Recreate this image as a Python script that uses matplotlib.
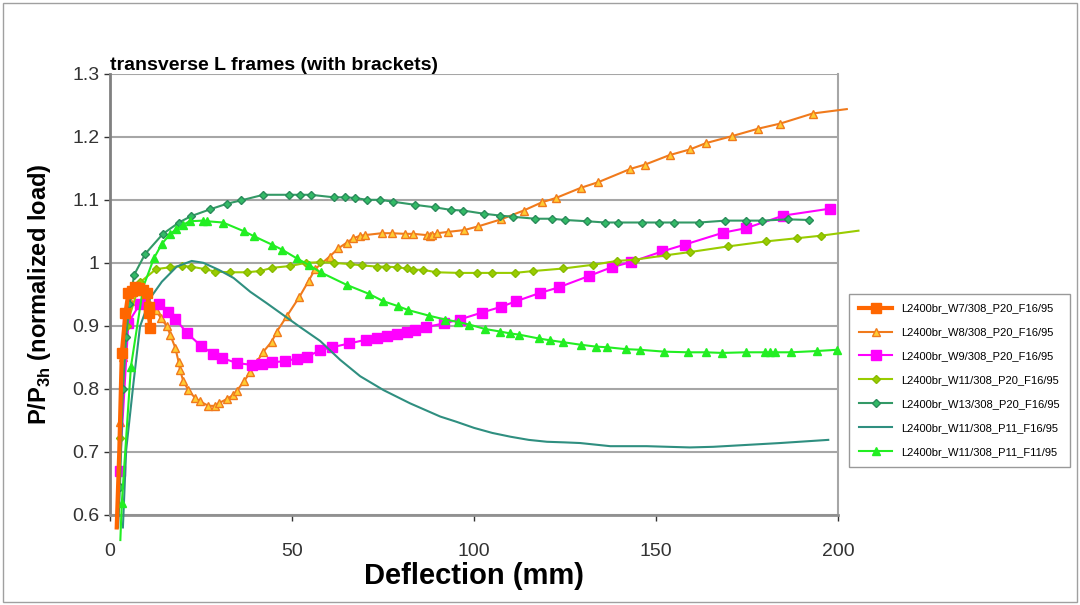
#!/usr/bin/env python3

import matplotlib
matplotlib.use("Agg")
import matplotlib.pyplot as plt
from matplotlib.patches import Rectangle

plt.rcParams['font.family'] = ['Liberation Sans', 'DejaVu Sans']
plt.rcParams['mathtext.fontset'] = 'custom'
plt.rcParams['mathtext.rm'] = 'Liberation Sans'
plt.rcParams['mathtext.bf'] = 'Liberation Sans:bold'

labels = ["L2400br_W7/308_P20_F16/95", "L2400br_W8/308_P20_F16/95",
          "L2400br_W9/308_P20_F16/95", "L2400br_W11/308_P20_F16/95",
          "L2400br_W13/308_P20_F16/95", "L2400br_W11/308_P11_F16/95",
          "L2400br_W11/308_P11_F11/95"]

w7_x = [1.8, 2.5, 3.2, 4.2, 5.0, 6.0, 6.9, 8.0, 9.0, 10.1, 10.6, 11.0, 10.8]
w7_y = [0.58, 0.70, 0.857, 0.92, 0.952, 0.955, 0.962, 0.96, 0.957, 0.952, 0.93, 0.897, 0.92]

w8_x = [2.0, 2.7, 3.5, 4.5, 5.5, 7.1, 8.5, 10.5, 12.5, 14.0, 15.6, 16.5, 17.9, 18.8, 19.2,
        20.1, 21.5, 23.4, 24.7, 27.0, 28.8, 29.8, 32.1, 33.7, 34.8, 36.8, 38.5, 40.3, 42.1,
        44.4, 45.8, 48.5, 52.0, 54.5, 56.3, 60.3, 62.7, 65.0, 66.8, 68.7, 70.0, 74.6, 77.4,
        81.0, 83.3, 87.0, 87.8, 88.5, 89.9, 92.7, 97.3, 101.2, 107.4, 113.6, 118.6, 122.5,
        129.3, 134.1, 142.9, 147.0, 153.7, 159.3, 163.7, 170.8, 178.1, 184.1, 193.0, 202.4]
w8_y = [0.60, 0.747, 0.85, 0.91, 0.94, 0.962, 0.955, 0.939, 0.925, 0.912, 0.899, 0.886, 0.865,
        0.843, 0.830, 0.812, 0.798, 0.785, 0.780, 0.773, 0.773, 0.777, 0.784, 0.790, 0.797,
        0.812, 0.827, 0.843, 0.859, 0.875, 0.891, 0.915, 0.946, 0.971, 0.990, 1.010, 1.023,
        1.032, 1.039, 1.043, 1.044, 1.047, 1.047, 1.046, 1.046, 1.044, 1.043, 1.044, 1.047,
        1.049, 1.052, 1.058, 1.069, 1.083, 1.096, 1.103, 1.119, 1.128, 1.149, 1.156, 1.171,
        1.180, 1.190, 1.201, 1.213, 1.221, 1.237, 1.244]

w9_x = [2.6, 5.0, 8.2, 13.3, 15.8, 17.9, 21.2, 25.0, 28.2, 30.7, 34.8, 38.9, 41.7, 44.4, 48.1,
        51.3, 54.0, 57.7, 60.9, 65.7, 70.3, 73.4, 76.2, 78.8, 81.5, 83.8, 86.8, 91.8, 96.0,
        102.1, 107.3, 111.5, 118.0, 123.2, 131.5, 137.8, 143.0, 151.6, 157.9, 168.5, 174.7,
        185.0, 197.8]
w9_y = [0.670, 0.905, 0.935, 0.934, 0.922, 0.911, 0.888, 0.868, 0.856, 0.849, 0.841, 0.838,
        0.839, 0.842, 0.844, 0.848, 0.851, 0.861, 0.866, 0.872, 0.878, 0.880, 0.884, 0.887,
        0.890, 0.894, 0.898, 0.904, 0.910, 0.921, 0.930, 0.939, 0.952, 0.961, 0.979, 0.993,
        1.001, 1.018, 1.029, 1.048, 1.055, 1.075, 1.086]

w11_x = [2.2, 2.7, 4.5, 8.2, 12.6, 16.5, 19.7, 22.2, 26.1, 28.8, 33.0, 37.6, 41.2, 44.4, 49.5,
         53.8, 57.7, 61.4, 65.8, 69.1, 73.3, 75.8, 78.8, 81.5, 83.3, 85.9, 89.6, 95.9, 100.7,
         104.9, 111.1, 116.3, 124.5, 132.8, 139.2, 144.2, 152.7, 159.2, 169.7, 180.2, 188.6,
         195.2, 205.6]
w11_y = [0.60, 0.722, 0.90, 0.969, 0.990, 0.993, 0.995, 0.994, 0.990, 0.986, 0.985, 0.985,
         0.987, 0.992, 0.995, 1.000, 1.001, 1.000, 0.998, 0.996, 0.994, 0.994, 0.993, 0.991,
         0.989, 0.989, 0.985, 0.984, 0.984, 0.984, 0.984, 0.987, 0.991, 0.997, 1.003, 1.005,
         1.012, 1.017, 1.026, 1.034, 1.039, 1.043, 1.051]

w13_x = [2.2, 2.7, 3.5, 4.4, 5.3, 6.6, 9.6, 14.5, 18.9, 22.2, 27.5, 32.2, 35.9, 42.1, 49.0,
         52.2, 55.1, 61.4, 64.4, 67.3, 70.5, 74.2, 77.8, 83.8, 89.3, 93.6, 97.0, 102.6, 107.1,
         110.8, 116.8, 121.3, 125.0, 131.0, 136.0, 139.6, 146.0, 150.9, 155.0, 161.9, 169.0,
         174.7, 179.0, 186.3, 192.1]
w13_y = [0.58, 0.645, 0.800, 0.883, 0.935, 0.981, 1.014, 1.046, 1.064, 1.074, 1.085, 1.094,
         1.099, 1.108, 1.108, 1.108, 1.108, 1.104, 1.104, 1.103, 1.100, 1.100, 1.097, 1.092,
         1.088, 1.084, 1.083, 1.078, 1.075, 1.073, 1.070, 1.070, 1.068, 1.066, 1.064, 1.064,
         1.064, 1.064, 1.064, 1.064, 1.067, 1.067, 1.067, 1.069, 1.068]

p11f16_x = [3.5, 4.4, 6.4, 8.2, 11.0, 14.2, 18.3, 22.4, 25.6, 29.8, 33.9, 38.5, 43.0, 47.6,
            52.2, 57.7, 63.2, 68.7, 75.1, 82.4, 90.7, 95.0, 100.0, 105.0, 110.0, 115.0, 120.0,
            125.0, 129.1, 137.4, 147.4, 159.3, 165.7, 174.9, 184.1, 197.3]
p11f16_y = [0.58, 0.703, 0.809, 0.899, 0.944, 0.970, 0.994, 1.003, 1.000, 0.989, 0.976, 0.954,
            0.936, 0.917, 0.898, 0.876, 0.846, 0.820, 0.798, 0.777, 0.756, 0.748, 0.738, 0.730,
            0.724, 0.719, 0.716, 0.715, 0.714, 0.709, 0.709, 0.707, 0.708, 0.711, 0.714, 0.719]

p11f11_x = [2.8, 3.2, 5.7, 9.1, 12.0, 14.2, 16.5, 18.1, 20.0, 21.8, 25.6, 26.6, 31.0, 36.8,
            39.6, 44.4, 47.2, 51.3, 54.5, 57.8, 65.0, 71.0, 75.1, 79.2, 81.9, 87.7, 92.0, 95.7,
            98.7, 103.0, 107.1, 109.9, 112.4, 117.7, 120.9, 124.5, 129.3, 133.5, 136.6, 141.7,
            145.6, 152.3, 158.7, 163.7, 168.2, 174.6, 179.9, 181.3, 182.7, 187.1, 194.1, 199.8]
p11f11_y = [0.56, 0.619, 0.835, 0.962, 1.007, 1.030, 1.046, 1.053, 1.060, 1.066, 1.067, 1.066,
            1.064, 1.050, 1.042, 1.029, 1.021, 1.007, 0.997, 0.985, 0.965, 0.951, 0.939, 0.931,
            0.925, 0.916, 0.910, 0.906, 0.902, 0.895, 0.891, 0.888, 0.886, 0.880, 0.877, 0.874,
            0.870, 0.867, 0.866, 0.863, 0.862, 0.859, 0.858, 0.858, 0.857, 0.858, 0.858, 0.858,
            0.858, 0.858, 0.860, 0.862]

fig = plt.figure(figsize=(10.8, 6.05), dpi=100)
ax = fig.add_axes([0.102, 0.149, 0.674, 0.729])

kw = dict(clip_on=False)
h8, = ax.plot(w8_x, w8_y, color='#f07a1c', lw=1.5, marker='^', ms=5.5, mfc='#ffcc33',
              mec='#f07a1c', mew=1, markevery=slice(1, -1), zorder=3, **kw)
h9, = ax.plot(w9_x, w9_y, color='#ff00ff', lw=1.5, marker='s', ms=6.5, mfc='#ff00ff',
              mec='#ff00ff', zorder=3, **kw)
h11, = ax.plot(w11_x, w11_y, color='#99cc00', lw=1.5, marker='D', ms=4.5, mfc='#99cc00',
               mec='#88bb00', markevery=slice(1, -1), zorder=3, **kw)
h13, = ax.plot(w13_x, w13_y, color='#339966', lw=1.5, marker='D', ms=4.5, mfc='#33bb66',
               mec='#2a8a5a', markevery=slice(1, None), zorder=3, **kw)
h16, = ax.plot(p11f16_x, p11f16_y, color='#2f8f80', lw=1.5, zorder=3, **kw)
h1111, = ax.plot(p11f11_x, p11f11_y, color='#22ee22', lw=1.5, marker='^', ms=6, mfc='#22ee22',
                 mec='#22ee22', markevery=slice(1, None), zorder=3, **kw)
h7, = ax.plot(w7_x, w7_y, color='#ff6600', lw=3, marker='s', ms=6.5, mfc='#ff6600',
              mec='#ff6600', markevery=slice(2, None), zorder=4, **kw)

ax.set_xlim(0, 200)
ax.set_ylim(0.6, 1.3)
ax.set_xticks([0, 50, 100, 150, 200])
ax.set_yticks([0.6, 0.7, 0.8, 0.9, 1.0, 1.1, 1.2, 1.3])
ax.set_yticklabels(['0.6', '0.7', '0.8', '0.9', '1', '1.1', '1.2', '1.3'])
ax.tick_params(labelsize=14, colors='#333333', length=4, width=1)
ax.tick_params(axis='x', pad=16)
ax.yaxis.grid(True, color='#a6a6a6', lw=1.5)
ax.set_axisbelow(True)
ax.spines['top'].set_visible(False)
ax.spines['right'].set_color('#a6a6a6')
ax.spines['right'].set_linewidth(1.5)
ax.spines['left'].set_color('#808080')
ax.spines['left'].set_linewidth(2)
ax.spines['bottom'].set_color('#909090')
ax.spines['bottom'].set_linewidth(2)

ax.set_xlabel("Deflection (mm)", fontsize=21, fontweight='bold', labelpad=2)
ax.set_ylabel(r"P/P$_{\mathbf{3h}}$ (normalized load)", fontsize=17, fontweight='bold',
              labelpad=14)
fig.text(0.102, 0.885, "transverse L frames (with brackets)", fontsize=14, fontweight='bold')

fig.legend([h7, h8, h9, h11, h13, h16, h1111], labels, loc='upper left',
           bbox_to_anchor=(0.781, 0.524), fontsize=8, frameon=True, fancybox=False,
           edgecolor='#808080', handlelength=3, labelspacing=1.25, borderpad=0.9)

fig.patches.append(Rectangle((0.003, 0.005), 0.994, 0.99, transform=fig.transFigure,
                             fill=False, edgecolor='#a0a0a0', lw=1))

fig.savefig("out.png", dpi=100)
